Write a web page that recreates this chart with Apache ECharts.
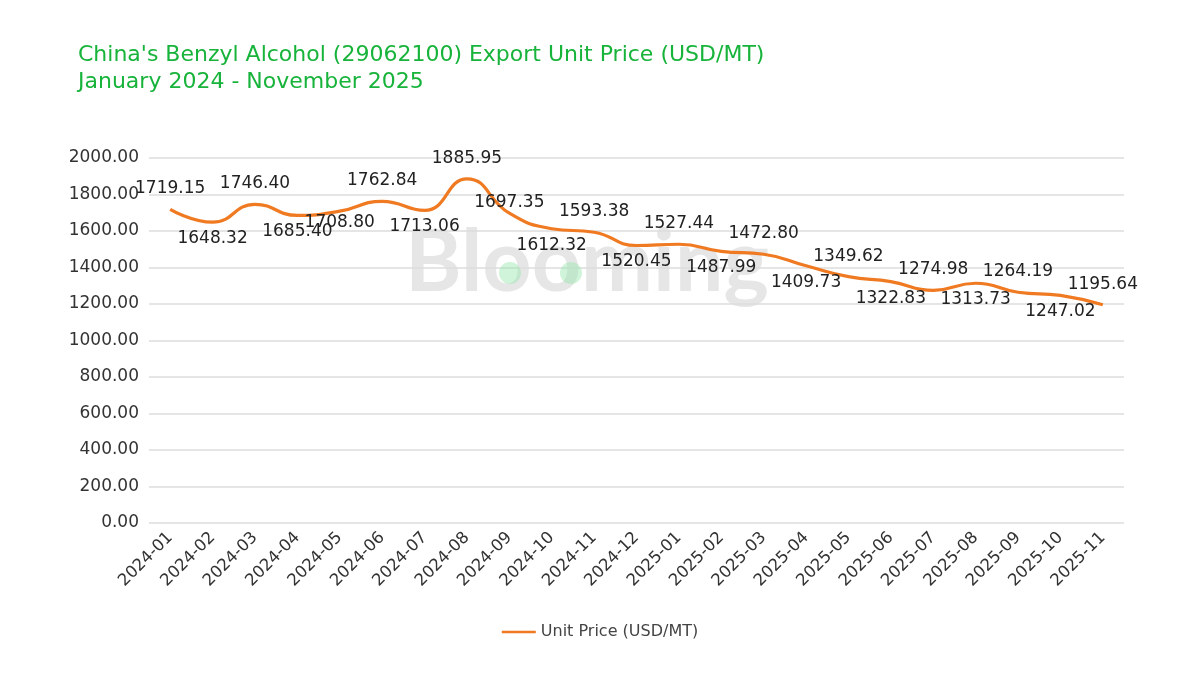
<!DOCTYPE html>
<html>
<head>
<meta charset="utf-8">
<script src="https://cdn.jsdelivr.net/npm/echarts@6/dist/echarts.min.js"></script>
<style>
  html, body { margin: 0; padding: 0; background: #fff; }
  #main { width: 1200px; height: 675px; }
</style>
</head>
<body>
<div id="main"></div>
<script>
const months = ['2024-01', '2024-02', '2024-03', '2024-04', '2024-05', '2024-06', '2024-07', '2024-08',
  '2024-09', '2024-10', '2024-11', '2024-12', '2025-01', '2025-02', '2025-03', '2025-04', '2025-05',
  '2025-06', '2025-07', '2025-08', '2025-09', '2025-10', '2025-11']
const unitPrice = [1719.15, 1648.32, 1746.40, 1685.40, 1708.80, 1762.84, 1713.06, 1885.95,
  1697.35, 1612.32, 1593.38, 1520.45, 1527.44, 1487.99, 1472.80, 1409.73, 1349.62,
  1322.83, 1274.98, 1313.73, 1264.19, 1247.02, 1195.64]
const seriesName = 'Unit Price (USD/MT)'

// which labels sit under the line
const belowIdx = [1, 3, 4, 6, 9, 11, 13, 15, 17, 19, 21]

const font = '"DejaVu Sans", "Noto Sans", sans-serif'
const orange = '#f07a22'
const chart = echarts.init(document.getElementById('main'))

const points = unitPrice.map((v, i) => {
  const below = belowIdx.includes(i)
  let dist = below ? 8 : 12
  if (i === 4) dist = 3
  if (i === 8) dist = 2
  return {
    value: v,
    label: { position: below ? 'bottom' : 'top', distance: dist }
  }
})

const option = {
  animation: false,
  title: {
    text: "China's Benzyl Alcohol (29062100) Export Unit Price (USD/MT)\nJanuary 2024 - November 2025",
    left: 73,
    top: 37,
    textStyle: {
      color: '#17b33a',
      fontFamily: font,
      fontSize: 22,
      fontWeight: 'normal',
      lineHeight: 27
    }
  },
  graphic: [{
    type: 'text',
    left: 405,
    top: 220,
    z: 0,
    style: {
      text: 'Blooming',
      fontSize: 86,
      fontWeight: 'bold',
      fontFamily: 'Lato, sans-serif',
      fill: 'rgba(205,205,205,0.5)'
    }
  }, {
    type: 'circle',
    shape: { cx: 510, cy: 273, r: 11 },
    z: 1,
    style: { fill: 'rgba(150,230,170,0.45)' }
  }, {
    type: 'circle',
    shape: { cx: 571, cy: 273, r: 11 },
    z: 1,
    style: { fill: 'rgba(150,230,170,0.45)' }
  }],
  grid: {
    left: 149,
    right: 76,
    top: 158,
    bottom: 152
  },
  legend: {
    bottom: 30,
    left: 'center',
    icon: 'path://M0,0 H40 V3 H0 Z',
    itemWidth: 34,
    itemHeight: 3,
    itemGap: 6,
    itemStyle: { color: orange },
    textStyle: { color: '#444', fontSize: 16, fontFamily: font }
  },
  xAxis: {
    type: 'category',
    data: months,
    boundaryGap: true,
    axisLine: { show: false },
    axisTick: { show: false },
    axisLabel: {
      rotate: 45,
      interval: 0,
      margin: 12,
      color: '#333',
      fontSize: 16.5,
      fontFamily: font
    }
  },
  yAxis: {
    type: 'value',
    min: 0,
    max: 2000,
    interval: 200,
    axisLabel: {
      formatter: v => v.toFixed(2),
      color: '#333',
      fontSize: 17,
      fontFamily: font,
      margin: 10
    },
    splitLine: { lineStyle: { color: '#dcdcdc', width: 1.5 } }
  },
  series: [{
    name: seriesName,
    type: 'line',
    data: points,
    smooth: 0.5,
    symbol: 'circle',
    symbolSize: 0.1,
    showSymbol: true,
    lineStyle: { color: orange, width: 3.2 },
    itemStyle: { color: orange },
    label: {
      show: true,
      formatter: p => p.value.toFixed(2),
      color: '#222',
      fontSize: 17,
      fontFamily: font
    },
    labelLayout: { hideOverlap: false },
    z: 3
  }]
}

chart.setOption(option)
</script>
</body>
</html>
